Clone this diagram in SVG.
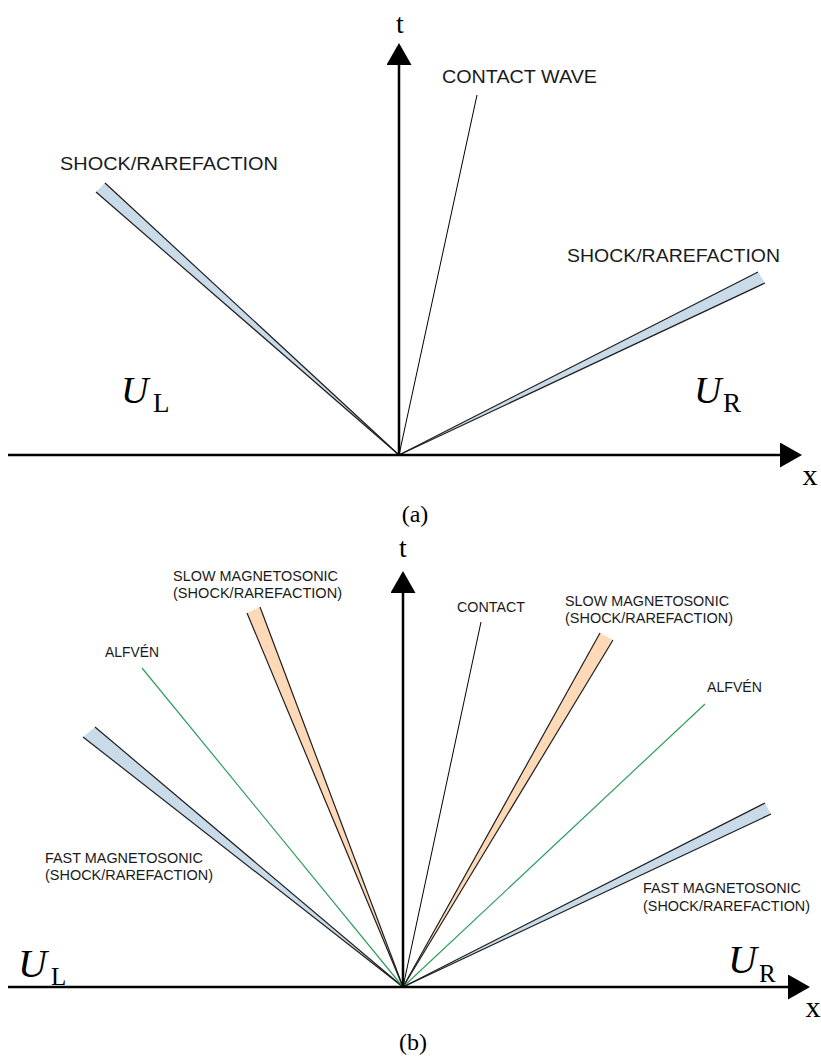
<svg xmlns="http://www.w3.org/2000/svg" width="821" height="1064" viewBox="0 0 821 1064">
<style>
.lbl{font-family:"Liberation Sans",Arial,sans-serif;fill:#1a1a1a}
.la{font-size:19px}
.lb{font-size:14.3px}
.math{font-family:"Liberation Serif","Times New Roman",serif;fill:#000}
.axis{stroke:#000;stroke-width:2.5;fill:none}
.edge{stroke:#1e1e1e;stroke-width:1.2;fill:none}
.blue{fill:#c9dbe8;stroke:none}
.peach{fill:#fdd9b8;stroke:none}
.contact{stroke:#000;stroke-width:1;fill:none}
.alf{stroke:#2e9e5b;stroke-width:1.2;fill:none}
</style>
<defs>
<marker id="arr" markerUnits="userSpaceOnUse" markerWidth="22" markerHeight="25" refX="0" refY="12.5" orient="auto">
<path d="M0,0 L22,12.5 L0,25 z" fill="#000"/>
</marker>
</defs>
<rect width="821" height="1064" fill="#fff"/>

<!-- Part (a) -->
<g id="a-left-wave">
<polygon class="blue" points="105,183 96,192 399,455"/>
<line class="edge" x1="105" y1="183" x2="399" y2="455"/>
<line class="edge" x1="96" y1="192" x2="399" y2="455"/>
<text class="lbl la" x="60" y="170" textLength="218" lengthAdjust="spacingAndGlyphs">SHOCK/RAREFACTION</text>
</g>
<g id="a-right-wave">
<polygon class="blue" points="758,272 765,283 399,455"/>
<line class="edge" x1="758" y1="272" x2="399" y2="455"/>
<line class="edge" x1="765" y1="283" x2="399" y2="455"/>
<text class="lbl la" x="567" y="262" textLength="213" lengthAdjust="spacingAndGlyphs">SHOCK/RAREFACTION</text>
</g>
<g id="a-contact">
<line class="contact" x1="477" y1="95" x2="399" y2="455"/>
<text class="lbl la" x="442" y="83" textLength="155" lengthAdjust="spacingAndGlyphs">CONTACT WAVE</text>
</g>
<g id="a-UL">
<text class="math" x="121" y="403" font-size="38" font-style="italic">U</text>
<text class="math" x="153" y="412" font-size="27">L</text>
</g>
<g id="a-UR">
<text class="math" x="694" y="403" font-size="38" font-style="italic">U</text>
<text class="math" x="723" y="412" font-size="27">R</text>
</g>
<g id="a-axis-labels">
<text class="math" x="400" y="33" font-size="28" text-anchor="middle">t</text>
<text class="math" x="810" y="485" font-size="30" text-anchor="middle">x</text>
<text class="math" x="415" y="522" font-size="24" text-anchor="middle">(a)</text>
</g>

<!-- Part (b) -->
<g id="b-left-fast">
<polygon class="blue" points="95,727 83,737 403,987"/>
<line class="edge" x1="95" y1="727" x2="403" y2="987"/>
<line class="edge" x1="83" y1="737" x2="403" y2="987"/>
<text class="lbl lb" x="45" y="863" textLength="158" lengthAdjust="spacingAndGlyphs">FAST MAGNETOSONIC</text>
<text class="lbl lb" x="45" y="880" textLength="168" lengthAdjust="spacingAndGlyphs">(SHOCK/RAREFACTION)</text>
</g>
<g id="b-left-alfven">
<line class="alf" x1="142" y1="668" x2="403" y2="987"/>
<text class="lbl lb" x="105" y="657" textLength="54" lengthAdjust="spacingAndGlyphs">ALFVÉN</text>
</g>
<g id="b-left-slow">
<polygon class="peach" points="247,613 260,607 403,987"/>
<line class="edge" x1="247" y1="613" x2="403" y2="987"/>
<line class="edge" x1="260" y1="607" x2="403" y2="987"/>
<text class="lbl lb" x="173" y="581" textLength="165" lengthAdjust="spacingAndGlyphs">SLOW MAGNETOSONIC</text>
<text class="lbl lb" x="173" y="598" textLength="169" lengthAdjust="spacingAndGlyphs">(SHOCK/RAREFACTION)</text>
</g>
<g id="b-contact">
<line class="contact" x1="481" y1="622" x2="403" y2="987"/>
<text class="lbl lb" x="457" y="612" textLength="68" lengthAdjust="spacingAndGlyphs">CONTACT</text>
</g>
<g id="b-right-slow">
<polygon class="peach" points="600,633 613,640 403,987"/>
<line class="edge" x1="600" y1="633" x2="403" y2="987"/>
<line class="edge" x1="613" y1="640" x2="403" y2="987"/>
<text class="lbl lb" x="565" y="606" textLength="164" lengthAdjust="spacingAndGlyphs">SLOW MAGNETOSONIC</text>
<text class="lbl lb" x="565" y="623" textLength="168" lengthAdjust="spacingAndGlyphs">(SHOCK/RAREFACTION)</text>
</g>
<g id="b-right-alfven">
<line class="alf" x1="705" y1="704" x2="403" y2="987"/>
<text class="lbl lb" x="707" y="692" textLength="55" lengthAdjust="spacingAndGlyphs">ALFVÉN</text>
</g>
<g id="b-right-fast">
<polygon class="blue" points="765,803 771,814 403,987"/>
<line class="edge" x1="765" y1="803" x2="403" y2="987"/>
<line class="edge" x1="771" y1="814" x2="403" y2="987"/>
<text class="lbl lb" x="643" y="893" textLength="158" lengthAdjust="spacingAndGlyphs">FAST MAGNETOSONIC</text>
<text class="lbl lb" x="643" y="911" textLength="167" lengthAdjust="spacingAndGlyphs">(SHOCK/RAREFACTION)</text>
</g>
<g id="b-UL">
<text class="math" x="18" y="977" font-size="40" font-style="italic">U</text>
<text class="math" x="51" y="985" font-size="25">L</text>
</g>
<g id="b-UR">
<text class="math" x="728" y="973" font-size="40" font-style="italic">U</text>
<text class="math" x="759" y="982" font-size="25">R</text>
</g>
<g id="b-axis-labels">
<text class="math" x="403" y="557" font-size="28" text-anchor="middle">t</text>
<text class="math" x="813" y="1017" font-size="30" text-anchor="middle">x</text>
<text class="math" x="413" y="1050" font-size="24" text-anchor="middle">(b)</text>
</g>

<g id="connectors">
<line class="axis" x1="399" y1="456" x2="399" y2="65" marker-end="url(#arr)"/>
<line class="axis" x1="8" y1="455" x2="780" y2="455" marker-end="url(#arr)"/>
<line class="axis" x1="403" y1="988" x2="403" y2="593" marker-end="url(#arr)"/>
<line class="axis" x1="8" y1="987" x2="788" y2="987" marker-end="url(#arr)"/>
</g>
</svg>
